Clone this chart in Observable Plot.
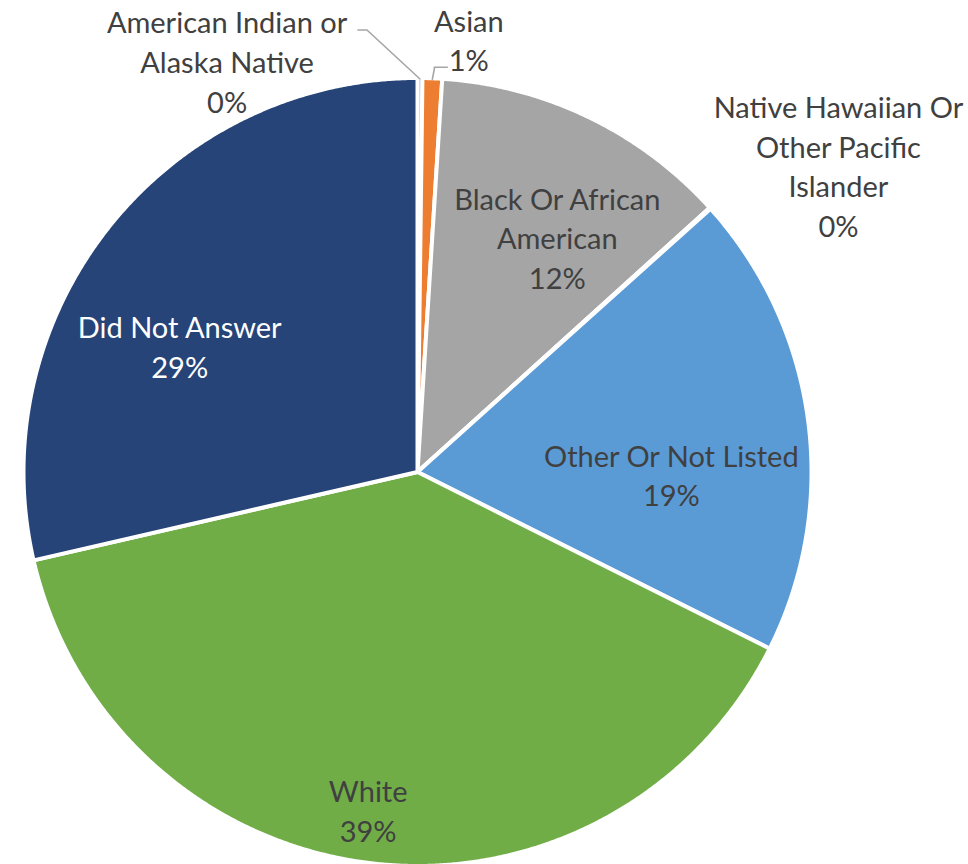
<!DOCTYPE html>
<html>
<head>
<meta charset="utf-8">
<script src="https://cdn.jsdelivr.net/npm/d3@7"></script>
<script src="https://cdn.jsdelivr.net/npm/@observablehq/plot@0.6"></script>
<style>
  html, body { margin: 0; padding: 0; background: #ffffff; }
  #chart svg { display: block; }
</style>
</head>
<body>
<div id="chart"></div>
<script>
// ---- data ----
const categories = [
  "American Indian or Alaska Native",
  "Asian",
  "Black Or African American",
  "Native Hawaiian Or Other Pacific Islander",
  "Other Or Not Listed",
  "White",
  "Did Not Answer"
];
const labelNames = [
  "American Indian or\nAlaska Native",
  "Asian",
  "Black Or African\nAmerican",
  "Native Hawaiian Or\nOther Pacific\nIslander",
  "Other Or Not Listed",
  "White",
  "Did Not Answer"
];
const values = [0.2, 0.8, 12.3, 0.05, 19.05, 39.0, 28.6];
const colors = ["#4472C4", "#ED7D31", "#A5A5A5", "#FFC000", "#5B9BD5", "#70AD47", "#264478"];
const labelColors = ["#404040", "#404040", "#404040", "#404040", "#404040", "#404040", "#ffffff"];

// ---- layout ----
const W = 968, H = 864;
const cx = 417, cy = 471.5, R = 394;   // pixel centre / radius of the pie
const fontFamily = "Lato, 'Open Sans', sans-serif";
const fontSize = 29;
// label placement: radius factor at slice mid-angle, plus pixel nudge
const labelLayout = [
  {k: 1.05, dx: -193, dy: 2},
  {k: 1.10, dx: 35, dy: 0},
  {k: 0.70, dx: 20, dy: 13},
  {k: 1.10, dx: 99, dy: -17},
  {k: 0.65, dx: 0, dy: 36},
  {k: 0.86, dx: -9, dy: 1},
  {k: 0.70, dx: -22, dy: 45}
];

const total = d3.sum(values);
const arcs = d3.pie().sort(null).value(d => d)(values);
const polar = (a, r) => ({x: r * Math.sin(a), y: r * Math.cos(a)});

const marks = [];
arcs.forEach((a, i) => {
  const pts = [{x: 0, y: 0}];
  const n = Math.max(2, Math.ceil((a.endAngle - a.startAngle) / 0.005));
  for (let j = 0; j <= n; j++) {
    pts.push(polar(a.startAngle + (a.endAngle - a.startAngle) * j / n, 1));
  }
  marks.push(Plot.line(pts, {
    x: "x", y: "y", curve: "linear-closed",
    fill: colors[i], stroke: "white", strokeWidth: 4, strokeLinejoin: "round"
  }));
});

// leader lines (AI and Asian)
const px = 1 / R;
function leader(i, offsets) {
  const a = arcs[i];
  const mid = (a.startAngle + a.endAngle) / 2;
  const p = polar(mid, 1 - 1 * px);
  const pts = [p];
  offsets.forEach(([ox, oy]) => pts.push({x: p.x + ox * px, y: p.y - oy * px}));
  return Plot.line(pts, {x: "x", y: "y", stroke: "#A6A6A6", strokeWidth: 1.6});
}
marks.push(leader(0, [[-53, -49], [-62, -49]]));
marks.push(leader(1, [[2, -10], [2, -12], [15, -12]]));

// labels
arcs.forEach((a, i) => {
  const mid = (a.startAngle + a.endAngle) / 2;
  const L = labelLayout[i];
  const p = polar(mid, L.k);
  const pct = Math.round(values[i] / total * 100) + "%";
  marks.push(Plot.text([{...p, t: labelNames[i] + "\n" + pct}], {
    x: "x", y: "y", text: "t",
    dx: L.dx, dy: L.dy,
    fill: labelColors[i], fontSize, fontFamily,
    lineHeight: 1.37, textAnchor: "middle", lineAnchor: "middle"
  }));
});

const chart = Plot.plot({
  width: W, height: H,
  margin: 0,
  style: {background: "#ffffff", fontFamily},
  x: {domain: [-cx / R, (W - cx) / R], axis: null},
  y: {domain: [-(H - cy) / R, cy / R], axis: null},
  marks
});
document.getElementById("chart").appendChild(chart);
</script>
</body>
</html>
